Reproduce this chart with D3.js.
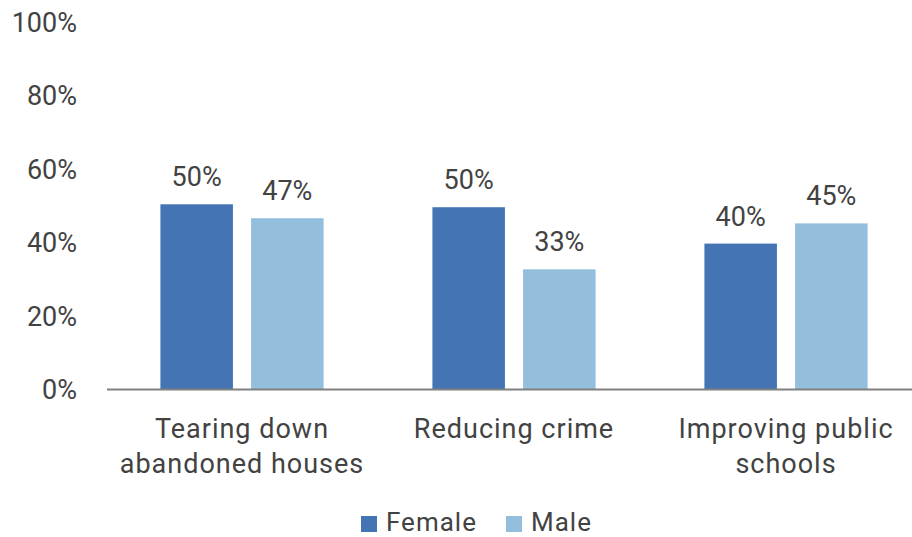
<!DOCTYPE html>
<html>
<head>
<meta charset="utf-8">
<script src="https://cdn.jsdelivr.net/npm/d3@7"></script>
<style>
  body { margin: 0; background: #fff; }
  text { font-family: Roboto, "Noto Sans", sans-serif; fill: #424242; }
</style>
</head>
<body>
<script>
//chart data
var categories = [["Tearing down", "abandoned houses"], ["Reducing crime"], ["Improving public", "schools"]];
var seriesNames = ["Female", "Male"];
var female = [50.4, 49.6, 39.7];
var male = [46.6, 32.7, 45.2];
var yTicks = [0, 20, 40, 60, 80, 100];
var colors = ["#4574b4", "#93bfdd"];

window.onload = drawChart();

function drawChart(){
	var width = 912,
		height = 537;

	var svg = d3.select("body")
		.append("svg")
		.attr("width", width)
		.attr("height", height);

	//outer band per category, inner band per series
	var x0 = d3.scaleBand()
		.domain(d3.range(categories.length))
		.range([106, 922])
		.paddingInner(0.4)
		.paddingOuter(0.2);

	var x1 = d3.scaleBand()
		.domain(seriesNames)
		.range([0, x0.bandwidth()])
		.paddingInner(0.2);

	var y = d3.scaleLinear()
		.domain([0, 100])
		.range([389.5, 22]);

	var color = d3.scaleOrdinal()
		.domain(seriesNames)
		.range(colors);

	//y tick labels
	svg.selectAll(".ytick")
		.data(yTicks)
		.enter()
		.append("text")
		.attr("class", "ytick")
		.attr("x", 77)
		.attr("y", function(d){ return y(d); })
		.attr("dy", "0.36em")
		.attr("text-anchor", "end")
		.style("font-size", "27px")
		.text(function(d){ return d + "%"; });

	var rows = categories.map(function(c, i){
		return [
			{ key: "Female", value: female[i], i: i },
			{ key: "Male", value: male[i], i: i }
		];
	});

	var groups = svg.selectAll(".group")
		.data(rows)
		.enter()
		.append("g")
		.attr("class", "group")
		.attr("transform", function(d, i){ return "translate(" + x0(i) + ",0)"; });

	groups.selectAll("rect")
		.data(function(d){ return d; })
		.enter()
		.append("rect")
		.attr("x", function(d){ return x1(d.key); })
		.attr("width", x1.bandwidth())
		.attr("y", function(d){ return y(d.value); })
		.attr("height", function(d){ return y(0) - y(d.value); })
		.attr("fill", function(d){ return color(d.key); });

	//value labels
	groups.selectAll(".val")
		.data(function(d){ return d; })
		.enter()
		.append("text")
		.attr("class", "val")
		.attr("x", function(d){ return x1(d.key) + x1.bandwidth() / 2; })
		.attr("y", function(d){ return y(d.value) - 18; })
		.attr("text-anchor", "middle")
		.style("font-size", "27px")
		.text(function(d){ return Math.round(d.value) + "%"; });

	//baseline
	svg.append("line")
		.attr("x1", 107)
		.attr("x2", width)
		.attr("y1", y(0))
		.attr("y2", y(0))
		.attr("stroke", "#808080")
		.attr("stroke-width", 2);

	//category labels
	var cats = svg.selectAll(".cat")
		.data(categories)
		.enter()
		.append("text")
		.attr("class", "cat")
		.attr("text-anchor", "middle")
		.style("font-size", "27px")
		.style("letter-spacing", "1px")
		.attr("transform", function(d, i){ return "translate(" + (x0(i) + x0.bandwidth() / 2) + ",438)"; });

	cats.selectAll("tspan")
		.data(function(d){ return d; })
		.enter()
		.append("tspan")
		.attr("x", 0)
		.attr("y", function(d, j){ return j * 35; })
		.text(function(d){ return d; });

	//legend
	var legendX = [361, 506];
	var legend = svg.selectAll(".legend")
		.data(seriesNames)
		.enter()
		.append("g")
		.attr("class", "legend")
		.attr("transform", function(d, i){ return "translate(" + legendX[i] + ",516)"; });

	legend.append("rect")
		.attr("width", 16)
		.attr("height", 16)
		.attr("fill", function(d){ return color(d); });

	legend.append("text")
		.attr("x", 25)
		.attr("y", 15)
		.style("font-size", "26px")
		.style("letter-spacing", "1px")
		.text(function(d){ return d; });
};
</script>
</body>
</html>
